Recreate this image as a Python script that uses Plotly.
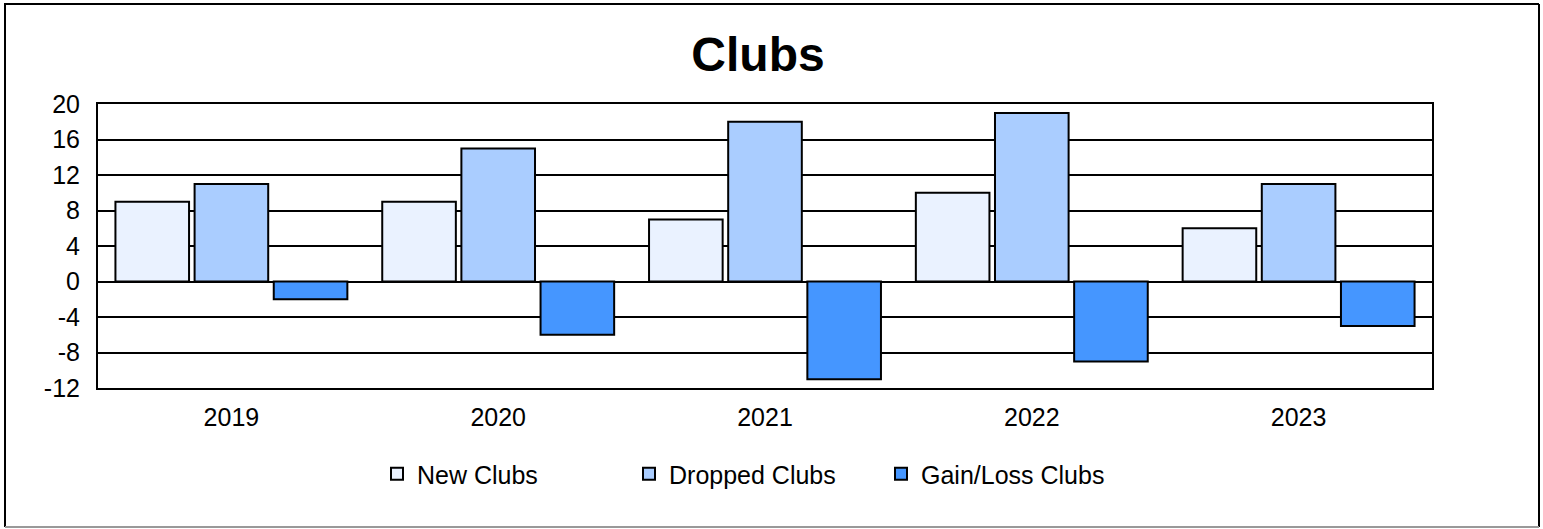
import plotly.graph_objects as go

years = ["2019", "2020", "2021", "2022", "2023"]
new_clubs = [9, 9, 7, 10, 6]
dropped_clubs = [11, 15, 18, 19, 11]
gain_loss_clubs = [-2, -6, -11, -9, -5]
y_ticks = [-12, -8, -4, 0, 4, 8, 12, 16, 20]
y_tick_text = ["-12", "-8", "-4", "0", "4", "8", "12", "16", "20"]

W, H = 1543, 529
L, T = 98, 104
PR, PB = 1432, 388
R, B = W - PR, H - PB
pw, ph = PR - L, PB - T


def px_x(x):
    return (x - L) / pw


def px_y(y):
    return (PB - y) / ph


font = "Liberation Sans, Arial, sans-serif"
fig = go.Figure()
series = [
    ("New Clubs", new_clubs, "#EAF2FF"),
    ("Dropped Clubs", dropped_clubs, "#AACDFF"),
    ("Gain/Loss Clubs", gain_loss_clubs, "#4596FF"),
]
for name, vals, col in series:
    fig.add_trace(go.Bar(x=years, y=vals, name=name,
                         marker=dict(color=col, line=dict(color="black", width=2))))

border = []
for (x0, y0, x1, y1, c) in [(4, 4, 1539, 4, "black"), (5, 4, 5, 527, "black"),
                            (1539, 4, 1539, 527, "black"), (5, 527, 1539, 527, "#999999")]:
    border.append(dict(type="line", xref="paper", yref="paper",
                       x0=px_x(x0), x1=px_x(x1), y0=px_y(y0), y1=px_y(y1),
                       line=dict(color=c, width=2), layer="below"))

fig.update_layout(
    width=W, height=H,
    margin=dict(l=L, r=R, t=T, b=B),
    paper_bgcolor="white", plot_bgcolor="white",
    barmode="group", bargap=0.11, bargroupgap=0.07,
    font=dict(family=font, size=25, color="black"),
    title=dict(text="<b>Clubs</b>", x=px_x(758), xref="paper", xanchor="center",
               y=1 - 54 / H, yanchor="middle", font=dict(size=48, family=font)),
    showlegend=True,
    legend=dict(orientation="h", x=px_x(377), xanchor="left", y=px_y(474), yanchor="middle",
                yref="paper", font=dict(size=25), entrywidth=207, entrywidthmode="pixels",
                traceorder="normal"),
    xaxis=dict(showgrid=False, showline=True, linecolor="black", linewidth=2, mirror=True,
               ticks="", ticklabelstandoff=6, tickfont=dict(size=25)),
    yaxis=dict(range=[-12, 20], tickvals=y_ticks, ticktext=y_tick_text,
               showgrid=True, gridcolor="black", gridwidth=2,
               showline=True, linecolor="black", linewidth=2, mirror=True, zeroline=True,
               zerolinecolor="black", zerolinewidth=2, ticks="", ticklabelstandoff=11,
               tickfont=dict(size=25)),
    shapes=border,
)
fig.write_html("out.html", config={"displayModeBar": False},
               post_script="document.body.style.margin='0';")
